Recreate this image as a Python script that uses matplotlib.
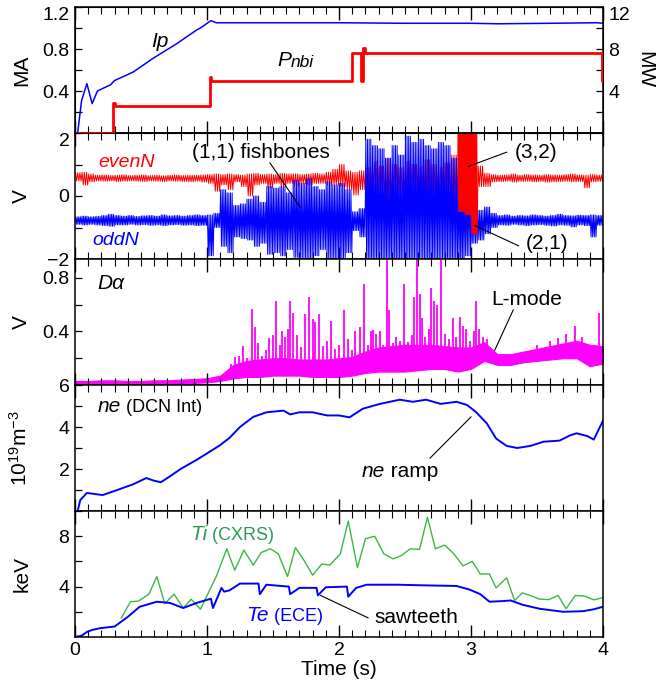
import matplotlib
matplotlib.use("Agg")
import matplotlib.pyplot as plt
from matplotlib.ticker import MultipleLocator
import numpy as np

plt.rcParams["font.family"] = ["Liberation Sans", "DejaVu Sans"]
plt.rcParams["mathtext.fontset"] = "custom"
plt.rcParams["mathtext.rm"] = "Liberation Sans"
plt.rcParams["mathtext.it"] = "Liberation Sans:italic"

# ---------------- data ----------------
# plasma current (MA)
ip_t = [0.0, 0.02, 0.05, 0.09, 0.13, 0.17, 0.27, 0.30, 0.44, 0.59, 0.77, 0.92, 0.95,
        1.03, 1.07, 1.5, 2.0, 2.5, 3.0, 3.2, 3.6, 3.95, 4.0]
ip_ma = [0.0, 0.0, 0.31, 0.47, 0.28, 0.40, 0.46, 0.50, 0.58, 0.71, 0.85, 0.98, 1.00,
         1.07, 1.05, 1.05, 1.05, 1.045, 1.045, 1.04, 1.045, 1.05, 1.045]
# NBI power (MW), step signal
pnbi_t = [0.0, 0.29, 0.30, 1.02, 1.03, 2.10, 2.165, 2.185, 2.195, 3.99, 4.0]
pnbi_mw = [0.0, 2.9, 2.55, 5.3, 5.0, 7.6, 5.0, 8.1, 7.6, 5.0, 5.0]

# magnetic probes: envelope (max / min) in 0.05 s bins, 0 - 4 s
bin_t0 = 0.0
bin_dt = 0.05
odd_hi = [-0.66, -0.64, -0.66, -0.65, -0.62, -0.58, -0.62, -0.64, -0.62, -0.65,
          -0.63, -0.62, -0.64, -0.60, -0.63, -0.62, -0.64, -0.62, -0.60, -0.62,
          -0.60, -0.55, 0.20, 0.10, -0.30, -0.25, -0.10, 0.00, -0.20, 0.30,
          0.25, 0.30, 0.10, 0.50, 0.40, 0.55, 0.30, 0.20, 0.45, 0.35,
          0.40, 0.20, -0.50, -0.40, 1.80, 1.60, 1.50, 1.20, 1.60, 1.30,
          1.90, 1.70, 1.80, 1.60, 1.50, 1.70, 1.60, 1.20, 0.60, 0.40,
          -0.40, -0.45, -0.35, -0.55, -0.62, -0.60, -0.64, -0.62, -0.63, -0.60,
          -0.62, -0.64, -0.62, -0.58, -0.62, -0.63, -0.61, -0.62, -0.60, -0.62]
odd_lo = [-0.90, -0.92, -0.90, -0.92, -0.94, -0.96, -0.92, -0.92, -0.90, -0.92,
          -0.91, -0.93, -0.92, -0.94, -0.92, -0.91, -0.93, -0.92, -0.94, -0.93,
          -1.90, -1.00, -1.60, -1.80, -1.30, -1.35, -1.40, -1.60, -1.50, -1.85,
          -1.80, -1.90, -1.70, -1.95, -2.00, -2.00, -1.90, -1.70, -2.00, -2.00,
          -2.00, -1.80, -1.10, -1.30, -2.20, -2.20, -2.20, -2.20, -2.20, -2.20,
          -2.20, -2.20, -2.20, -2.20, -2.20, -2.20, -2.20, -2.20, -2.20, -1.90,
          -1.50, -1.40, -1.20, -1.00, -0.92, -0.93, -0.90, -0.92, -0.94, -0.92,
          -0.91, -0.93, -0.95, -0.92, -0.93, -0.98, -0.92, -0.94, -1.30, -0.93]
even_hi = [0.74, 0.75, 0.70, 0.66, 0.67, 0.65, 0.66, 0.67, 0.65, 0.66,
           0.67, 0.65, 0.66, 0.64, 0.66, 0.67, 0.65, 0.66, 0.66, 0.67,
           0.68, 0.70, 0.68, 0.70, 0.68, 0.66, 0.70, 0.72, 0.68, 0.70,
           0.68, 0.72, 0.70, 0.70, 0.68, 0.70, 0.72, 0.70, 0.75, 0.85,
           1.00, 0.80, 0.75, 0.80, 0.90, 1.10, 0.95, 1.20, 1.00, 0.90,
           1.10, 1.00, 0.95, 1.15, 1.00, 0.90, 1.05, 1.30, 2.20, 2.20,
           2.20, 0.95, 0.72, 0.68, 0.66, 0.67, 0.70, 0.66, 0.68, 0.67,
           0.66, 0.68, 0.67, 0.66, 0.68, 0.70, 0.67, 0.66, 0.68, 0.67]
even_lo = [0.48, 0.35, 0.45, 0.48, 0.47, 0.48, 0.46, 0.47, 0.48, 0.47,
           0.46, 0.48, 0.47, 0.46, 0.48, 0.47, 0.46, 0.45, 0.47, 0.44,
           0.40, 0.15, 0.35, 0.20, 0.45, 0.30, 0.00, 0.35, 0.40, 0.25,
           0.40, 0.30, 0.40, 0.30, 0.40, 0.35, 0.40, 0.40, 0.35, 0.35,
           0.30, 0.20, 0.03, 0.20, 0.10, 0.10, 0.00, -0.20, 0.10, 0.00,
           -0.10, 0.10, 0.00, -0.20, 0.05, 0.00, -0.10, -0.20, -0.50, -0.60,
           -1.20, 0.30, 0.30, 0.45, 0.46, 0.47, 0.44, 0.46, 0.47, 0.45,
           0.46, 0.44, 0.45, 0.46, 0.47, 0.45, 0.46, 0.26, 0.45, 0.46]

# D-alpha: background band + ELM-like spikes (V)
da_t = [0.0, 0.1, 0.2, 0.3, 0.4, 0.5, 0.6, 0.7, 0.8, 0.9, 1.0, 1.1, 1.2, 1.3, 1.4,
        1.5, 1.6, 1.7, 1.8, 1.9, 2.0, 2.1, 2.2, 2.3, 2.4, 2.5, 2.6, 2.7, 2.8, 2.9,
        3.0, 3.1, 3.2, 3.3, 3.4, 3.5, 3.6, 3.7, 3.8, 3.9, 4.0]
da_lo = [0.0, 0.0, 0.0, 0.005, 0.005, 0.005, 0.005, 0.01, 0.01, 0.015, 0.02, 0.03,
         0.05, 0.06, 0.06, 0.07, 0.07, 0.07, 0.06, 0.06, 0.06, 0.07, 0.09, 0.10,
         0.10, 0.10, 0.11, 0.12, 0.12, 0.10, 0.12, 0.18, 0.15, 0.15, 0.17, 0.18,
         0.19, 0.20, 0.20, 0.14, 0.16]
da_hi = [0.03, 0.03, 0.035, 0.035, 0.03, 0.03, 0.035, 0.035, 0.04, 0.045, 0.05, 0.07,
         0.15, 0.18, 0.19, 0.20, 0.20, 0.19, 0.19, 0.19, 0.20, 0.21, 0.25, 0.28,
         0.29, 0.30, 0.30, 0.30, 0.29, 0.28, 0.28, 0.32, 0.23, 0.23, 0.25, 0.27,
         0.29, 0.31, 0.33, 0.30, 0.29]
spike_t = [1.18, 1.21, 1.24, 1.27, 1.30, 1.34, 1.36, 1.39, 1.42, 1.45, 1.47, 1.50,
           1.52, 1.55, 1.57, 1.59, 1.61, 1.63, 1.65, 1.68, 1.71, 1.74, 1.77, 1.80,
           1.82, 1.85, 1.88, 1.91, 1.94, 1.97, 2.00, 2.04, 2.07, 2.10, 2.12, 2.16,
           2.19, 2.22, 2.24, 2.26, 2.28, 2.31, 2.33, 2.36, 2.38, 2.41, 2.43, 2.46,
           2.49, 2.52, 2.55, 2.57, 2.59, 2.61, 2.63, 2.65, 2.68, 2.70, 2.72, 2.74,
           2.77, 2.80, 2.83, 2.86, 2.89, 2.92, 2.94, 2.96, 2.99, 3.02, 3.04, 3.06,
           3.09, 3.12, 3.50, 3.60, 3.66, 3.72, 3.79, 3.84, 3.97]
spike_v = [0.16, 0.21, 0.22, 0.29, 0.20, 0.57, 0.43, 0.31, 0.22, 0.26, 0.35, 0.37,
           0.63, 0.30, 0.40, 0.36, 0.42, 0.63, 0.54, 0.37, 0.28, 0.53, 0.66, 0.49,
           0.47, 0.53, 0.29, 0.33, 0.48, 0.27, 0.30, 0.56, 0.34, 0.26, 0.40, 0.43,
           0.75, 0.30, 0.40, 0.41, 0.38, 0.40, 0.30, 0.94, 0.56, 0.31, 0.36, 0.33,
           0.75, 0.32, 0.37, 0.66, 0.94, 0.68, 0.50, 0.36, 0.42, 0.72, 0.63, 0.60,
           0.93, 0.38, 0.34, 0.50, 0.36, 0.51, 0.44, 0.42, 0.33, 0.40, 0.63, 0.42,
           0.36, 0.34, 0.30, 0.33, 0.35, 0.38, 0.44, 0.36, 0.54]

# line-integrated density (1e19 m^-3)
ne_t = [0.0, 0.02, 0.04, 0.09, 0.16, 0.21, 0.32, 0.44, 0.54, 0.60, 0.65, 0.70, 0.80,
        0.92, 1.04, 1.10, 1.17, 1.25, 1.35, 1.45, 1.58, 1.63, 1.70, 1.80, 1.91, 2.00,
        2.08, 2.18, 2.31, 2.46, 2.56, 2.66, 2.77, 2.89, 2.97, 3.04, 3.12, 3.19, 3.27,
        3.35, 3.45, 3.55, 3.67, 3.75, 3.80, 3.88, 3.93, 4.0]
ne_val = [0.0, 0.0, 0.52, 0.86, 0.80, 0.76, 1.0, 1.27, 1.57, 1.44, 1.37, 1.57, 2.0,
          2.43, 2.9, 3.14, 3.48, 4.0, 4.48, 4.7, 4.78, 4.6, 4.7, 4.7, 4.55, 4.55,
          4.46, 4.87, 5.1, 5.3, 5.2, 5.3, 5.1, 5.2, 5.05, 4.7, 4.17, 3.45, 3.1,
          3.0, 3.1, 3.3, 3.35, 3.6, 3.7, 3.57, 3.4, 4.3]

# temperatures (keV)
te_t = [0.0, 0.05, 0.09, 0.13, 0.19, 0.30, 0.40, 0.49, 0.62, 0.72, 0.82, 0.92, 1.03,
        1.045, 1.11, 1.13, 1.17, 1.25, 1.39, 1.40, 1.45, 1.62, 1.63, 1.70, 1.83, 1.84,
        1.90, 2.06, 2.07, 2.13, 2.21, 2.44, 2.64, 2.89, 2.99, 3.07, 3.14, 3.24, 3.30,
        3.39, 3.52, 3.70, 3.85, 3.93, 4.0]
te_val = [0.0, 0.1, 0.4, 0.56, 0.7, 0.83, 1.6, 2.4, 2.8, 2.7, 2.3, 2.7, 3.04,
          2.3, 3.9, 3.6, 3.7, 4.24, 4.24, 3.4, 4.15, 4.0, 3.4, 3.9, 3.9, 3.3,
          3.95, 4.0, 3.2, 3.9, 4.15, 4.15, 4.1, 4.05, 3.76, 3.4, 2.8, 2.85, 2.9,
          2.56, 2.24, 2.0, 2.05, 2.2, 2.4]
ti_t = [0.35, 0.42, 0.48, 0.56, 0.62, 0.68, 0.75, 0.82, 0.88, 0.95, 1.07, 1.15, 1.21,
        1.28, 1.35, 1.41, 1.48, 1.54, 1.61, 1.67, 1.74, 1.80, 1.87, 1.93, 2.01, 2.07,
        2.14, 2.20, 2.27, 2.34, 2.41, 2.47, 2.54, 2.61, 2.67, 2.73, 2.80, 2.87, 2.94,
        3.01, 3.07, 3.14, 3.19, 3.27, 3.33, 3.39, 3.46, 3.52, 3.59, 3.66, 3.72, 3.79,
        3.86, 3.93, 3.99]
ti_val = [1.5, 2.8, 2.85, 3.4, 4.8, 2.65, 3.4, 2.3, 3.0, 2.2, 4.8, 7.0, 5.3,
          6.9, 5.7, 6.7, 7.0, 6.6, 4.8, 7.1, 6.0, 4.9, 5.8, 5.7, 6.6, 9.2,
          5.5, 7.8, 8.0, 6.6, 6.2, 6.45, 7.0, 6.95, 9.5, 7.0, 7.3, 6.6, 5.65,
          6.0, 5.0, 5.0, 3.9, 4.7, 2.9, 3.5, 3.25, 3.0, 2.97, 3.3, 2.25, 3.3,
          3.25, 2.95, 3.1]

RED = "#ff0000"
BLUE = "#0000ff"
MAG = "#ff00ff"
GREEN = "#3cb843"
GREEN_TXT = "#2e9a55"


def zigzag(hi, lo, first=0, n=3):
    # draw the min/max envelope of each bin as a fast oscillation
    xs, ys = [], []
    for k in range(len(hi)):
        for j in range(n):
            base = bin_t0 + bin_dt * (first + k)
            xs += [base + bin_dt * (2 * j + 0.5) / (2 * n),
                   base + bin_dt * (2 * j + 1.5) / (2 * n)]
            ys += [hi[k], lo[k]]
    return xs, ys


def style(ax, labels=False):
    ax.set_xlim(0, 4)
    ax.xaxis.set_major_locator(MultipleLocator(1))
    ax.xaxis.set_minor_locator(MultipleLocator(0.1))
    ax.tick_params(axis="x", which="both", direction="in", top=True, bottom=True,
                   labelbottom=labels, labelsize=14)
    ax.tick_params(axis="x", which="major", length=9, width=1)
    ax.tick_params(axis="x", which="minor", length=5, width=0.8)
    ax.tick_params(axis="y", which="both", direction="in", length=5, width=0.9,
                   labelsize=14, pad=4)
    for s in ax.spines.values():
        s.set_linewidth(1.1)
    ax.yaxis.set_label_coords(-0.083, 0.5)


def yticks(ax, ticks, shown, top=None, bottom=None):
    ax.set_yticks(ticks)
    ax.set_yticklabels([shown.get(t, "") for t in ticks])
    lab = ax.get_yticklabels()
    if top is not None:
        lab[top].set_va("top")
    if bottom is not None:
        lab[bottom].set_va("bottom")


def two_part(ax, x, y, s1, s2, color, size1, size2, italic2=False):
    t1 = ax.text(x, y, s1, color=color, fontsize=size1, style="italic",
                 ha="left", va="baseline")
    ax.annotate(s2, xy=(1, 0), xycoords=t1, color=color, fontsize=size2,
                style="italic" if italic2 else "normal", ha="left", va="bottom")


def pointer(ax, xy_from, xy_to):
    ax.plot([xy_from[0], xy_to[0]], [xy_from[1], xy_to[1]], color="black", lw=0.8)


fig = plt.figure(figsize=(6.6, 6.83), dpi=100)
left, width, h = 75 / 660, 528 / 660, 126 / 683
bottoms = [1 - (7 + 126 * (i + 1)) / 683 for i in range(5)]
axes = [fig.add_axes([left, b, width, h]) for b in bottoms]

# ---- panel 1: Ip and Pnbi ----
ax = axes[0]
style(ax)
ax.plot(ip_t, ip_ma, color=BLUE, lw=1.1)
ax.set_ylim(0, 1.2)
yticks(ax, [0.2, 0.4, 0.6, 0.8, 1.0, 1.2], {0.4: "0.4", 0.8: "0.8", 1.2: "1.2"}, top=5)
ax.set_ylabel("MA", fontsize=15)
ax.text(0.64, 0.87, "Ip", fontsize=15, style="italic", ha="center", va="center")
two_part(ax, 1.53, 0.64, "P", "nbi", "black", 15, 12.5, italic2=True)
axr = ax.twinx()
axr.plot(pnbi_t, pnbi_mw, color=RED, lw=2, drawstyle="steps-post")
axr.set_ylim(0, 12)
axr.set_yticks([2, 4, 6, 8, 10, 12])
axr.set_yticklabels(["", "4", "", "8", "", "12"])
axr.get_yticklabels()[5].set_va("top")
axr.tick_params(axis="y", direction="in", length=5, width=0.9, labelsize=14, pad=4)
axr.set_ylabel("MW", fontsize=15, rotation=-90, va="bottom")
axr.yaxis.set_label_coords(1.061, 0.5)

# ---- panel 2: magnetic probes ----
ax = axes[1]
style(ax)
x, y = zigzag(even_hi, even_lo)
ax.plot(x, y, color=RED, lw=0.7)
x, y = zigzag(odd_hi, odd_lo, n=4)
ax.plot(x, y, color=BLUE, lw=0.7)
x, y = zigzag(even_hi[58:61], even_lo[58:61], first=58, n=6)
ax.plot(x, y, color=RED, lw=0.7)
ax.set_ylim(-2, 2)
yticks(ax, [-2, -1, 0, 1, 2], {-2: "\u22122", 0: "0", 2: "2"}, top=4)
ax.set_ylabel("V", fontsize=15)
ax.text(0.175, 1.06, "evenN", color=RED, fontsize=14, style="italic", va="center")
ax.text(0.13, -1.42, "oddN", color=BLUE, fontsize=14, style="italic", va="center")
ax.text(1.41, 1.39, "(1,1) fishbones", fontsize=15, ha="center", va="center")
pointer(ax, (1.477, 1.05), (1.705, -0.35))
ax.text(3.49, 1.39, "(3,2)", fontsize=15, ha="center", va="center")
pointer(ax, (3.27, 1.39), (2.98, 0.94))
ax.text(3.58, -1.52, "(2,1)", fontsize=15, ha="center", va="center")
pointer(ax, (3.36, -1.58), (3.03, -0.94))

# ---- panel 3: D-alpha ----
ax = axes[2]
style(ax)
ax.fill_between(da_t, da_lo, da_hi, color=MAG, lw=0.8, edgecolor=MAG)
ax.vlines(spike_t, np.interp(spike_t, da_t, da_lo), spike_v, color=MAG, lw=1.3)
ax.set_ylim(0, 0.94)
yticks(ax, [0.2, 0.4, 0.6, 0.8], {0.4: "0.4", 0.8: "0.8"})
ax.set_ylabel("V", fontsize=15)
ax.text(0.17, 0.76, "D\u03b1", fontsize=15, style="italic", va="center")
ax.text(3.42, 0.64, "L-mode", fontsize=15, ha="center", va="center")
pointer(ax, (3.32, 0.56), (3.18, 0.26))

# ---- panel 4: density ----
ax = axes[3]
style(ax)
ax.plot(ne_t, ne_val, color=BLUE, lw=1.4)
ax.set_ylim(0, 6)
yticks(ax, [1, 2, 3, 4, 5, 6], {2: "2", 4: "4", 6: "6"})
ax.set_ylabel(r"$10^{19}$m$^{-3}$", fontsize=15)
two_part(ax, 0.17, 4.72, "ne", " (DCN Int)", "black", 15, 13)
t1 = ax.text(2.17, 1.6, "ne", fontsize=15, style="italic", ha="left", va="baseline")
ax.annotate(" ramp", xy=(1, 0), xycoords=t1, fontsize=15, ha="left", va="bottom")
pointer(ax, (2.69, 2.52), (3.0, 4.48))

# ---- panel 5: temperatures ----
ax = axes[4]
style(ax, labels=True)
ax.plot(ti_t, ti_val, color=GREEN, lw=1.0)
ax.plot(te_t, te_val, color=BLUE, lw=1.4)
ax.set_ylim(0, 10)
yticks(ax, [2, 4, 6, 8, 10], {4: "4", 8: "8"})
ax.set_ylabel("keV", fontsize=15)
ax.set_xticks([0, 1, 2, 3, 4])
ax.set_xticklabels(["0", "1", "2", "3", "4"])
ax.set_xlabel("Time (s)", fontsize=15, labelpad=1)
two_part(ax, 0.87, 7.7, "Ti", " (CXRS)", GREEN_TXT, 15, 13)
two_part(ax, 1.30, 1.3, "Te", " (ECE)", BLUE, 15, 13)
ax.text(2.27, 1.52, "sawteeth", fontsize=15, ha="left", va="center")
pointer(ax, (2.22, 1.52), (1.86, 3.3))

fig.savefig("out.png", dpi=100)
